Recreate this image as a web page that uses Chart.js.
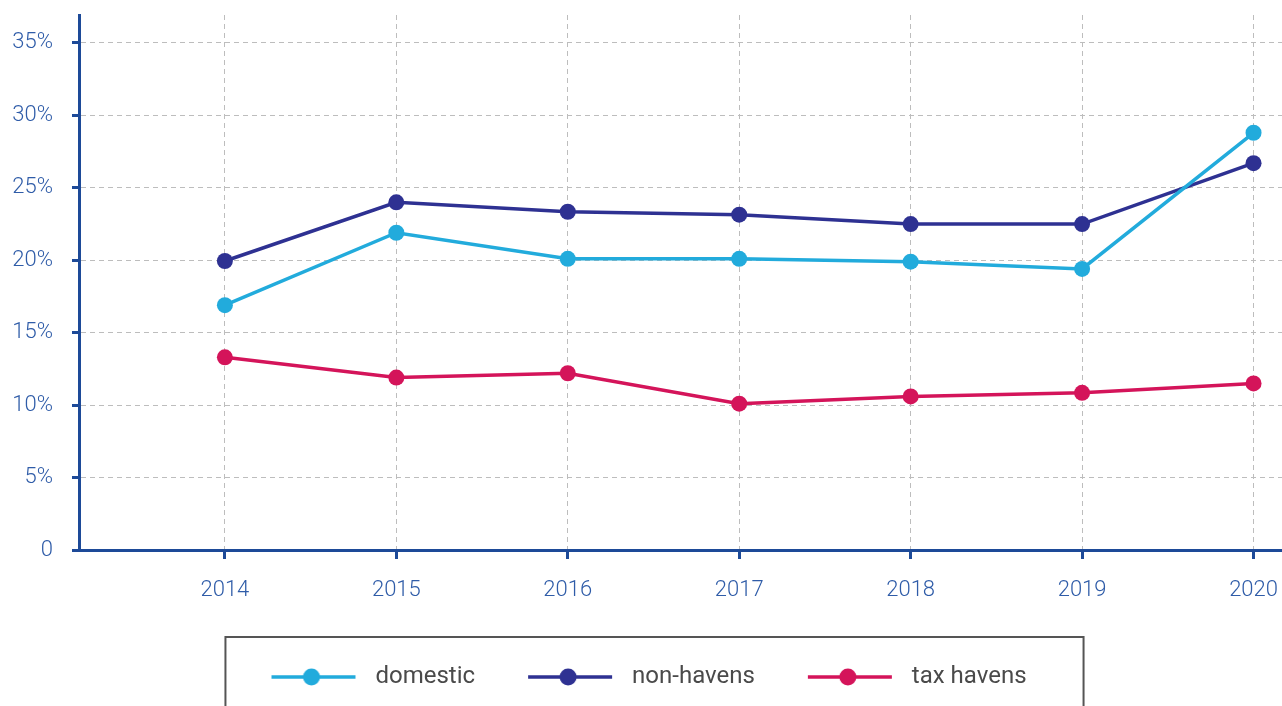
<!DOCTYPE html>
<html>
<head>
<meta charset="utf-8">
<script src="https://cdn.jsdelivr.net/npm/chart.js@4"></script>
<style>
html,body{margin:0;padding:0;background:#fff;}
#wrap{width:1282px;height:706px;position:relative;}
</style>
</head>
<body>
<div id="wrap"><canvas id="c" width="1282" height="706"></canvas></div>
<script>
const years = [2014, 2015, 2016, 2017, 2018, 2019, 2020];
const domestic = [16.9, 21.9, 20.1, 20.1, 19.9, 19.4, 28.8];
const nonHavens = [19.95, 24.0, 23.35, 23.15, 22.5, 22.5, 26.7];
const taxHavens = [13.3, 11.9, 12.2, 10.1, 10.6, 10.85, 11.5];
const yTicks = [0, 5, 10, 15, 20, 25, 30, 35];
const seriesNames = ['domestic', 'non-havens', 'tax havens'];
const seriesColors = ['#22abdc', '#2e3192', '#d4145a'];

const FONT = 'Roboto, "Open Sans", sans-serif';
const AXIS = '#1d4a98';
const TICKTXT = '#2f5ca8';

function toPts(vals){ return years.map((y,i)=>({x:y, y:vals[i]})); }

function legendImage(color){
  const c = document.createElement('canvas');
  c.width = 108; c.height = 22;
  const g = c.getContext('2d');
  g.strokeStyle = color; g.lineWidth = 3.5;
  g.beginPath(); g.moveTo(16, 11); g.lineTo(100, 11); g.stroke();
  g.fillStyle = color;
  g.beginPath(); g.arc(56, 11, 8.5, 0, Math.PI*2); g.fill();
  return c;
}
const legendImgs = seriesColors.map(legendImage);

const legendBox = {
  id: 'legendBox',
  afterDraw(chart){
    const lg = chart.legend;
    if (!lg || !lg.legendHitBoxes || !lg.legendHitBoxes.length) return;
    const hb = lg.legendHitBoxes;
    const first = hb[0], last = hb[hb.length-1];
    const ctx = chart.ctx;
    ctx.save();
    ctx.strokeStyle = '#555';
    ctx.lineWidth = 2;
    const l = first.left - 30, r = last.left + last.width + 57;
    const t = 637;
    ctx.beginPath();
    ctx.moveTo(l, 720); ctx.lineTo(l, t); ctx.lineTo(r, t); ctx.lineTo(r, 720);
    ctx.stroke();
    ctx.restore();
  }
};

const datasets = [domestic, nonHavens, taxHavens].map((vals, i) => ({
  label: seriesNames[i],
  data: toPts(vals),
  borderColor: seriesColors[i],
  backgroundColor: seriesColors[i],
  borderWidth: 3.5,
  pointRadius: 8,
  pointHoverRadius: 8,
  pointBorderWidth: 0,
  pointBackgroundColor: seriesColors[i],
  tension: 0,
  clip: false
}));

function zeroPad(s){ s.paddingTop = 0; s.paddingBottom = 0; s.paddingLeft = 0; s.paddingRight = 0; }

new Chart(document.getElementById('c'), {
  type: 'line',
  data: { datasets },
  plugins: [legendBox],
  options: {
    responsive: false,
    animation: false,
    devicePixelRatio: 1,
    layout: { autoPadding: false, padding: { top: 15, right: 0, bottom: 7, left: 0 } },
    plugins: {
      tooltip: { enabled: false },
      legend: {
        position: 'bottom',
        labels: {
          usePointStyle: true,
          pointStyleWidth: 108,
          boxHeight: 22,
          padding: 37,
          color: '#4a4a4a',
          font: { family: FONT, size: 24, weight: 400 },
          generateLabels(chart){
            return chart.data.datasets.map((ds, i) => ({
              text: ds.label,
              pointStyle: legendImgs[i],
              fillStyle: ds.borderColor,
              strokeStyle: ds.borderColor,
              lineWidth: 0,
              hidden: false,
              datasetIndex: i,
              fontColor: '#4a4a4a'
            }));
          }
        }
      }
    },
    scales: {
      x: {
        type: 'linear',
        min: 2013.149,
        max: 2020.166,
        afterFit(s){ s.height = 78; zeroPad(s); },
        ticks: {
          stepSize: 1,
          includeBounds: false,
          autoSkip: false,
          maxRotation: 0,
          padding: 18,
          color: TICKTXT,
          font: { family: FONT, size: 22, weight: 300 },
          callback: v => String(v)
        },
        grid: {
          color: '#bdbdbd',
          lineWidth: 1,
          tickLength: 9,
          tickColor: AXIS,
          tickWidth: 3,
          tickBorderDash: [],
          drawOnChartArea: true
        },
        border: { display: true, color: AXIS, width: 3, dash: [5, 4] }
      },
      y: {
        type: 'linear',
        min: 0,
        max: 36.93,
        afterFit(s){ s.width = 79; zeroPad(s); },
        afterBuildTicks(s){ s.ticks = yTicks.map(v => ({value: v})); },
        ticks: {
          includeBounds: false,
          padding: 19,
          color: TICKTXT,
          font: { family: FONT, size: 22, weight: 300 },
          callback: v => v === 0 ? '0' : v + '%'
        },
        grid: {
          color: '#bdbdbd',
          lineWidth: 1,
          tickLength: 7,
          tickColor: AXIS,
          tickWidth: 3,
          tickBorderDash: []
        },
        border: { display: true, color: AXIS, width: 3, dash: [5, 4] }
      }
    }
  }
});
</script>
</body>
</html>
